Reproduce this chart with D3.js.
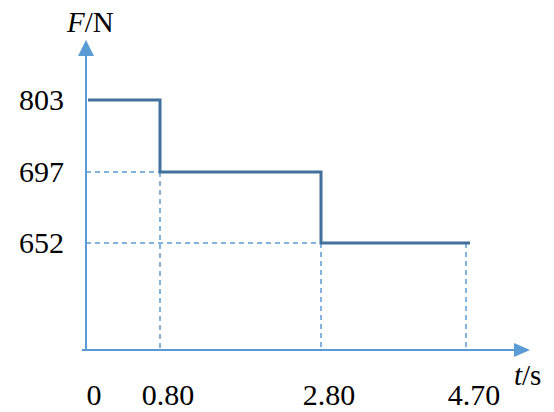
<!DOCTYPE html>
<html>
<head>
<meta charset="utf-8">
<script src="https://cdn.jsdelivr.net/npm/d3@7"></script>
<style>
  html, body { margin: 0; padding: 0; background: #fff; }
</style>
</head>
<body>
<svg id="chart" width="554" height="412"></svg>
<script>
// data
var times = [0, 0.80, 2.80, 4.70];
var forces = [803, 697, 652];
var xTickLabels = ["0", "0.80", "2.80", "4.70"];
var yTickLabels = ["803", "697", "652"];

var svg = d3.select("#chart")
    .attr("font-family", "'Liberation Serif', 'Times New Roman', 'DejaVu Serif', serif");
var axisColor = "#5b9bd5";
var lineColor = "#41719c";
var axisY = 350, axisX = 86;

// schematic chart: spacing is not to scale, so piecewise scales
var xScale = d3.scaleLinear().domain(times).range([axisX, 160, 321, 466]);
var yScale = d3.scaleLinear().domain([652, 697, 803]).range([243, 172, 100]);

// dashed guides
var guide = svg.append("g")
    .attr("stroke", axisColor)
    .attr("stroke-width", 1.5)
    .attr("stroke-dasharray", "5,4");
[1, 2].forEach(function(i) {
    guide.append("line")
        .attr("x1", axisX).attr("x2", xScale(times[i]))
        .attr("y1", yScale(forces[i])).attr("y2", yScale(forces[i]));
});
[1, 2, 3].forEach(function(i) {
    var f = forces[Math.min(i, forces.length - 1)];
    guide.append("line")
        .attr("x1", xScale(times[i])).attr("x2", xScale(times[i]))
        .attr("y1", yScale(f)).attr("y2", axisY);
});

// axes with arrows
svg.append("line")
    .attr("x1", 82).attr("x2", 516)
    .attr("y1", axisY).attr("y2", axisY)
    .attr("stroke", axisColor).attr("stroke-width", 2);
svg.append("path")
    .attr("d", "M530," + axisY + "L514," + (axisY - 7) + "L514," + (axisY + 7) + "Z")
    .attr("fill", axisColor);
svg.append("line")
    .attr("x1", axisX).attr("x2", axisX)
    .attr("y1", axisY).attr("y2", 54)
    .attr("stroke", axisColor).attr("stroke-width", 2);
svg.append("path")
    .attr("d", "M" + axisX + ",40L" + (axisX - 8) + ",56L" + (axisX + 8) + ",56Z")
    .attr("fill", axisColor);

// step line
var pts = [];
forces.forEach(function(f, i) {
    pts.push([xScale(times[i]) + (i === 0 ? 2 : 0), yScale(f)]);
    pts.push([xScale(times[i + 1]) + (i === forces.length - 1 ? 4 : 0), yScale(f)]);
});
svg.append("path")
    .attr("d", d3.line()(pts))
    .attr("fill", "none")
    .attr("stroke", lineColor)
    .attr("stroke-width", 3);

// tick labels
svg.selectAll(".ylab").data(forces).enter().append("text")
    .attr("class", "ylab")
    .attr("x", 64)
    .attr("y", function(d) { return yScale(d) + 10; })
    .attr("text-anchor", "end")
    .attr("font-size", 30)
    .text(function(d, i) { return yTickLabels[i]; });

svg.selectAll(".xlab").data(times).enter().append("text")
    .attr("class", "xlab")
    .attr("x", function(d) { return xScale(d) + 8; })
    .attr("y", 405)
    .attr("text-anchor", "middle")
    .attr("font-size", 30)
    .text(function(d, i) { return xTickLabels[i]; });

// axis titles
var ft = svg.append("text").attr("x", 67).attr("y", 32).attr("font-size", 29);
ft.append("tspan").attr("font-style", "italic").text("F");
ft.append("tspan").text("/N");

var tt = svg.append("text").attr("x", 514).attr("y", 385).attr("font-size", 29);
tt.append("tspan").attr("font-style", "italic").text("t");
tt.append("tspan").text("/s");
</script>
</body>
</html>
